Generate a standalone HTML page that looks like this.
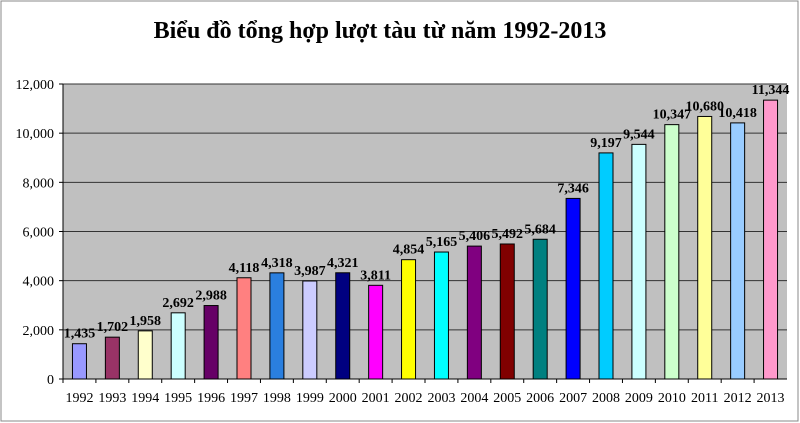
<!DOCTYPE html>
<html><head><meta charset="utf-8"><style>
body{margin:0;background:#fff;}
svg{display:block;font-family:"Liberation Serif",serif;}
</style></head><body>
<svg id="c" width="800" height="423">
<rect x="1" y="1" width="797" height="420" fill="#fff" stroke="#888"/>
<text x="380" y="38" text-anchor="middle" font-size="24" font-weight="bold">Biểu đồ tổng hợp lượt tàu từ năm 1992-2013</text>
<rect x="63" y="84" width="724" height="295" fill="#c0c0c0"/>
<g id="grid"></g><g id="bars"></g><g id="axes"></g>
</svg>
<script>
const years=["1992","1993","1994","1995","1996","1997","1998","1999","2000","2001","2002","2003","2004","2005","2006","2007","2008","2009","2010","2011","2012","2013"];
const values=[1435,1702,1958,2692,2988,4118,4318,3987,4321,3811,4854,5165,5406,5492,5684,7346,9197,9544,10347,10680,10418,11344];
const colors=["#9999ff","#993366","#ffffcc","#ccffff","#660066","#ff8080","#2a7fdf","#ccccff","#000080","#ff00ff","#ffff00","#00ffff","#800080","#800000","#008080","#0000ff","#00ccff","#ccffff","#ccffcc","#ffff99","#99ccff","#ff99cc"];
const yTicks=[0,2000,4000,6000,8000,10000,12000];
const NS="http://www.w3.org/2000/svg";
const L=63,R=787,T=84,B=379,maxV=12000;
const y=v=>B-(v/maxV)*(B-T);
const band=(R-L)/years.length;
const x=i=>L+band*i+band/2;
function mk(tag,attrs,parent){const e=document.createElementNS(NS,tag);for(const k in attrs)e.setAttribute(k,attrs[k]);document.getElementById(parent).appendChild(e);return e;}
yTicks.forEach(t=>{
 if(t>0){const g=mk("line",{x1:L,x2:R,y1:y(t),y2:y(t),stroke:"#333","stroke-width":1},"grid");
 
 }
 const tk=mk("line",{x1:L-4,x2:L,y1:y(t),y2:y(t),stroke:"#000"},"axes");
 
 
 const lb=mk("text",{x:L-9,y:y(t)+5,"text-anchor":"end","font-size":14},"axes");
 lb.textContent=t.toLocaleString("en-US");
 
 
});
const ya=mk("line",{x1:L,x2:L,y1:T,y2:B,stroke:"#000"},"axes");


const xa=mk("line",{x1:L,x2:R,y1:B,y2:B,stroke:"#000"},"axes");


years.forEach((yr,i)=>{
 const bw=14;
 const b=mk("rect",{x:x(i)-bw/2,y:y(values[i]),width:bw,height:B-y(values[i]),fill:colors[i],stroke:"#000","stroke-width":1},"bars");
 
 
 const v=mk("text",{x:x(i),y:y(values[i])-6,"text-anchor":"middle","font-size":14,"font-weight":"bold"},"bars");
 v.textContent=values[i].toLocaleString("en-US");
 
 
 const tk=mk("line",{x1:L+band*i,x2:L+band*i,y1:B,y2:B+4,stroke:"#000"},"axes");
 
 
 const xl=mk("text",{x:x(i),y:B+23,"text-anchor":"middle","font-size":14},"axes");
 xl.textContent=yr;
 
 
});
</script>
</body></html>
